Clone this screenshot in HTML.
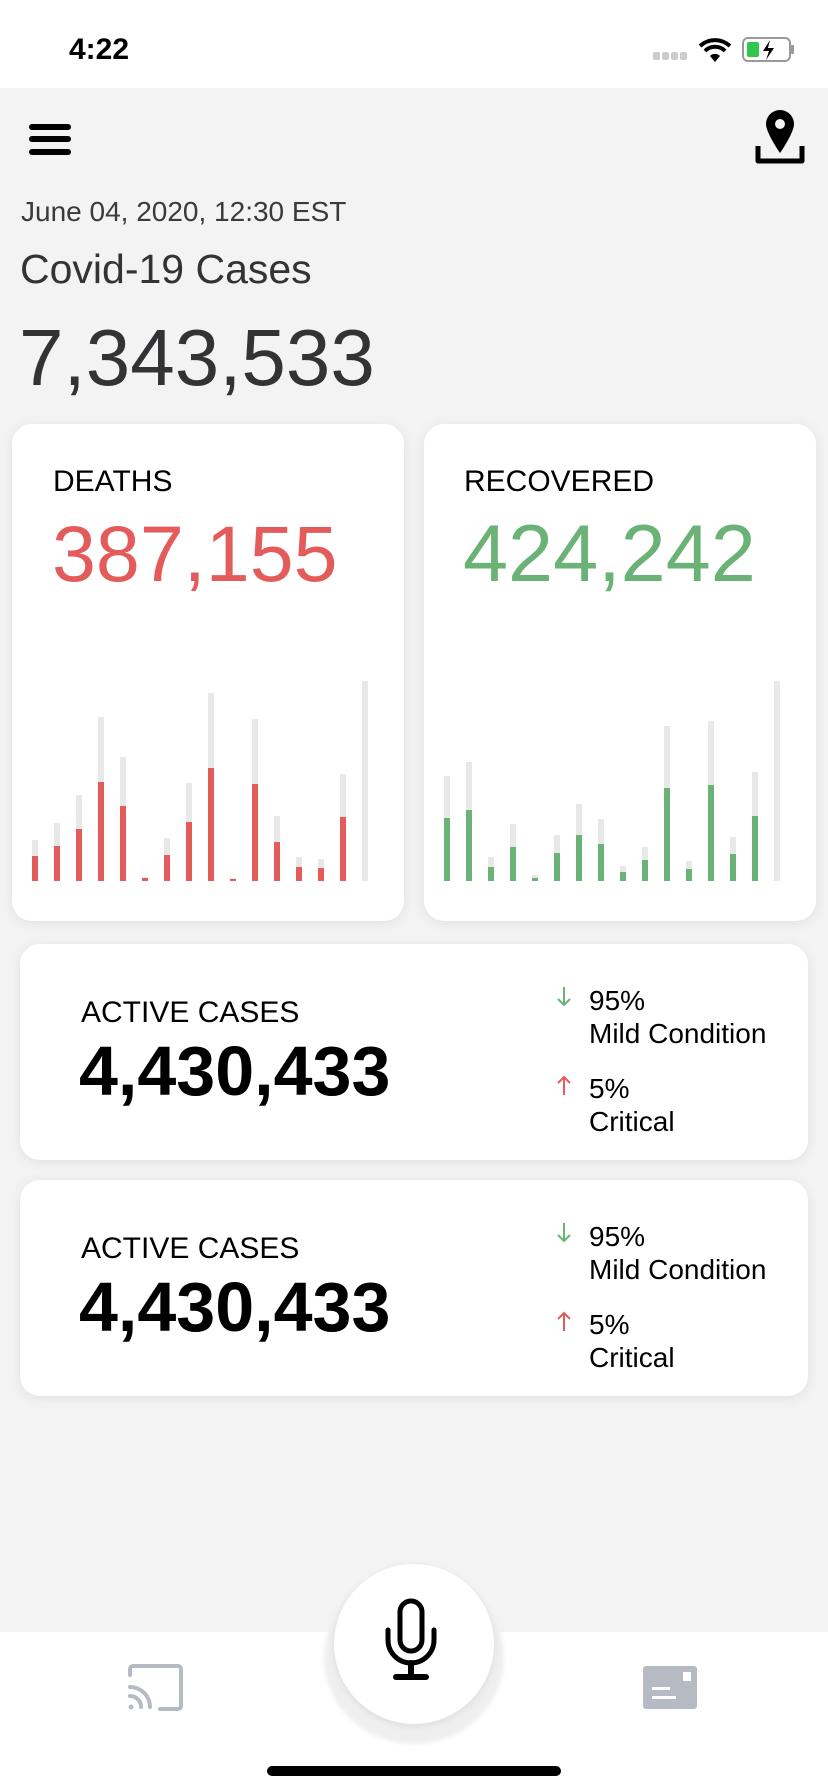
<!DOCTYPE html>
<html><head><meta charset="utf-8"><title>Covid-19 Cases</title>
<style>
*{margin:0;padding:0;box-sizing:border-box}
body{width:828px;height:1792px;background:#f3f3f3;font-family:"Liberation Sans",Arial,sans-serif;position:relative;overflow:hidden}
.abs{position:absolute}
.card{position:absolute;background:#fff;border-radius:20px;box-shadow:0 2px 12px rgba(0,0,0,0.08)}
.t{position:absolute;white-space:nowrap;line-height:1}
</style></head><body>
<div class="abs" style="left:0;top:0;width:828px;height:88px;background:#fff"></div>
<div class="t" style="left:69px;top:35px;font-size:30px;font-weight:bold;color:#000">4:22</div>
<svg class="abs" style="left:650px;top:34px" width="150" height="32">
<g fill="#ccc"><rect x="3" y="18" width="7" height="8" rx="2"/><rect x="12" y="18" width="7" height="8" rx="2"/><rect x="21" y="18" width="7" height="8" rx="2"/><rect x="30" y="18" width="7" height="8" rx="2"/></g>
<path d="M50 12 a22 22 0 0 1 30 0" stroke="#000" stroke-width="4" fill="none"/>
<path d="M55 17 a14 14 0 0 1 20 0" stroke="#000" stroke-width="4" fill="none"/>
<path d="M60 22 l5 6 l5 -6 a7 7 0 0 0 -10 0z" fill="#000"/>
<rect x="93" y="4" width="47" height="23" rx="5" fill="none" stroke="#999" stroke-width="2"/>
<rect x="97" y="8" width="12" height="15" rx="2" fill="#2fc84c"/>
<path d="M120 6 l-7 11 h6 l-3 9 l8 -12 h-6z" fill="#000"/>
<rect x="141" y="11" width="3" height="9" rx="1" fill="#999"/>
</svg>
<div class="abs" style="left:29px;top:124px;width:42px;height:31px">
<div class="abs" style="left:0;top:0;width:42px;height:6px;background:#000;border-radius:3px"></div>
<div class="abs" style="left:0;top:12px;width:42px;height:6px;background:#000;border-radius:3px"></div>
<div class="abs" style="left:0;top:25px;width:42px;height:6px;background:#000;border-radius:3px"></div>
</div>
<svg class="abs" style="left:753px;top:108px" width="54" height="58">
<path d="M27 2 a14 14 0 0 1 14 14 c0 9 -14 29 -14 29 c0 0 -14 -20 -14 -29 a14 14 0 0 1 14 -14z" fill="#000"/>
<circle cx="27" cy="16" r="5" fill="#f3f3f3"/>
<path d="M5 38 v15 h44 v-15" stroke="#000" stroke-width="5" fill="none" stroke-linejoin="round"/>
</svg>
<div class="t" style="left:21px;top:198px;font-size:28px;color:#3a3a3c">June 04, 2020, 12:30 EST</div>
<div class="t" style="left:20px;top:249px;font-size:41px;color:#333336">Covid-19 Cases</div>
<div class="t" style="left:19px;top:318px;font-size:80px;color:#333336">7,343,533</div>

<div class="card" style="left:12px;top:424px;width:392px;height:497px"></div>
<div class="card" style="left:424px;top:424px;width:392px;height:497px"></div>
<div class="t" style="left:53px;top:467px;font-size:30px;color:#000">DEATHS</div>
<div class="t" style="left:52px;top:514px;font-size:79px;color:#e35b5b">387,155</div>
<div class="t" style="left:464px;top:467px;font-size:30px;color:#000">RECOVERED</div>
<div class="t" style="left:463px;top:514px;font-size:81px;color:#6bb277">424,242</div>
<svg id="charts" class="abs" style="left:0;top:660px" width="828" height="240"></svg>

<div class="card" style="left:20px;top:944px;width:788px;height:216px"></div>
<div class="card" style="left:20px;top:1180px;width:788px;height:216px"></div>
<div id="ac"></div>

<div class="abs" style="left:0;top:1632px;width:828px;height:160px;background:#fff"></div>
<div class="abs" style="left:324px;top:1572px;width:180px;height:172px;border-radius:50%;background:#efefef;filter:blur(2px)"></div>
<div class="abs" style="left:334px;top:1564px;width:160px;height:160px;border-radius:50%;background:#fff;box-shadow:0 2px 8px rgba(0,0,0,0.08)"></div>
<svg class="abs" style="left:384px;top:1598px" width="56" height="84">
<rect x="16" y="3" width="22" height="50" rx="11" fill="none" stroke="#000" stroke-width="5"/>
<path d="M4 32 v10 a23 23 0 0 0 46 0 v-10" fill="none" stroke="#000" stroke-width="5" stroke-linecap="round"/>
<path d="M27 65 v11 M12 79 h30" stroke="#000" stroke-width="6" stroke-linecap="round"/>
</svg>
<svg class="abs" style="left:126px;top:1663px" width="60" height="50">
<path d="M4 12 v-6 a3 3 0 0 1 3 -3 h45 a3 3 0 0 1 3 3 v37 a3 3 0 0 1 -3 3 h-18" fill="none" stroke="#b6bac3" stroke-width="4" stroke-linecap="round"/>
<path d="M4 24 a20 20 0 0 1 20 20 M4 33 a11 11 0 0 1 11 11" fill="none" stroke="#b6bac3" stroke-width="4" stroke-linecap="round"/>
<circle cx="5" cy="44" r="2.5" fill="#b6bac3"/>
</svg>
<svg class="abs" style="left:643px;top:1666px" width="54" height="44">
<rect x="0" y="0" width="54" height="43" rx="3" fill="#b6bac3"/>
<rect x="40" y="6" width="8" height="9" fill="#fff"/>
<rect x="9" y="21" width="18" height="3" fill="#fff"/>
<rect x="9" y="30" width="24" height="3" fill="#fff"/>
</svg>
<div class="abs" style="left:267px;top:1766px;width:294px;height:10px;border-radius:5px;background:#000"></div>

<script>
// Bar chart data (units: chart px, max 200)
const dayIndex = [0,1,2,3,4,5,6,7,8,9,10,11,12,13,14,15];
const deathsTotal = [41,58,86,164,124,4,43,98,188,3,162,65,24,22,107,200];
const deathsValue = [25,35,52,99,75,3,26,59,113,2,97,39,14,13,64,0];
const recoveredTotal = [105,119,24,57,6,46,77,62,15,34,155,20,160,44,109,200];
const recoveredValue = [63,71,14,34,3,28,46,37,9,21,93,12,96,27,65,0];

const NS = 'http://www.w3.org/2000/svg';
const svg = document.getElementById('charts');
const baseY = 221, maxV = 200, maxH = 200;
function yScale(v){ return baseY - v / maxV * maxH; }
function xScale(i, x0){ return x0 + i * 22; }
function drawChart(x0, totals, vals, color, prefix){
  dayIndex.forEach(function(i){
    const g = document.createElementNS(NS,'rect');
    g.setAttribute('x', xScale(i,x0)); g.setAttribute('width', 6);
    g.setAttribute('y', yScale(totals[i])); g.setAttribute('height', baseY - yScale(totals[i]));
    g.setAttribute('fill', '#e8e8e6');
    
    
    svg.appendChild(g);
    const r = document.createElementNS(NS,'rect');
    r.setAttribute('x', xScale(i,x0)); r.setAttribute('width', 6);
    r.setAttribute('y', yScale(vals[i])); r.setAttribute('height', baseY - yScale(vals[i]));
    r.setAttribute('fill', color);
    
    
    svg.appendChild(r);
  });
}
drawChart(32, deathsTotal, deathsValue, '#e35b5b', 'deaths');
drawChart(444, recoveredTotal, recoveredValue, '#6bb277', 'recovered');

// Active cases cards content
const ac = document.getElementById('ac');
[944, 1180].forEach(function(top){
  const html =
   '<div class="t" style="left:81px;top:'+(top+54)+'px;font-size:30px;color:#000">ACTIVE CASES</div>'+
   '<div class="t" style="left:79px;top:'+(top+92)+'px;font-size:70px;font-weight:bold;color:#000">4,430,433</div>'+
   '<svg class="abs" style="left:557px;top:'+(top+42)+'px" width="14" height="22"><path d="M7 1 v18 M1 13 l6 6 l6 -6" stroke="#6bb277" stroke-width="2" fill="none"/></svg>'+
   '<div class="t" style="left:589px;top:'+(top+43)+'px;font-size:28px;color:#000">95%</div>'+
   '<div class="t" style="left:589px;top:'+(top+76)+'px;font-size:28px;color:#000">Mild Condition</div>'+
   '<svg class="abs" style="left:557px;top:'+(top+130)+'px" width="14" height="22"><path d="M7 21 v-18 M1 9 l6 -6 l6 6" stroke="#e35b5b" stroke-width="2" fill="none"/></svg>'+
   '<div class="t" style="left:589px;top:'+(top+131)+'px;font-size:28px;color:#000">5%</div>'+
   '<div class="t" style="left:589px;top:'+(top+164)+'px;font-size:28px;color:#000">Critical</div>';
  ac.insertAdjacentHTML('beforeend', html);
});
</script>
</body></html>
